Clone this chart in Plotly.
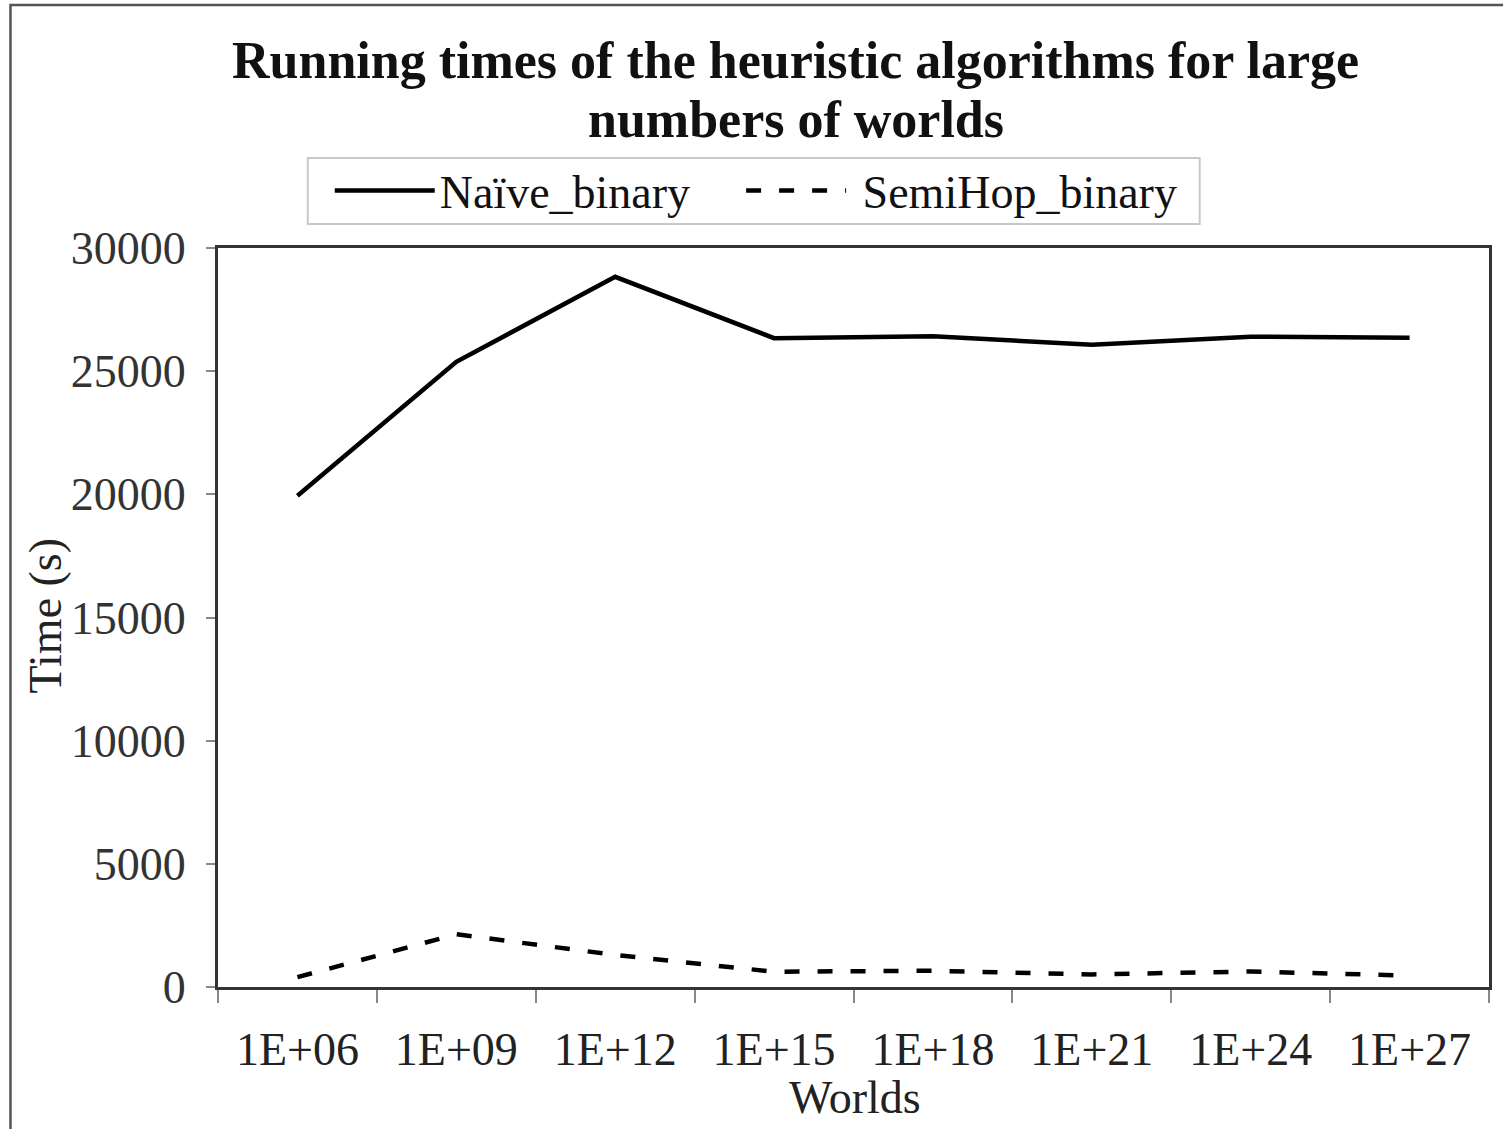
import plotly.graph_objects as go

categories = ["1E+06", "1E+09", "1E+12", "1E+15", "1E+18", "1E+21", "1E+24", "1E+27"]
naive_binary = [19940, 25380, 28830, 26340, 26420, 26070, 26400, 26360]
semihop_binary = [400, 2140, 1300, 620, 660, 510, 630, 460]
series_names = ["Naïve_binary", "SemiHop_binary"]

W, H = 1503, 1129
L, R, T, B = 218, 1492, 248, 987   # plot area in page pixels

FONT = "Liberation Serif, Times New Roman, serif"
NBSP = "\u00a0"

fig = go.Figure()
fig.add_trace(go.Scatter(x=categories, y=naive_binary, mode="lines", name=series_names[0] + NBSP * 4,
                         line=dict(color="black", width=4.5)))
fig.add_trace(go.Scatter(x=categories, y=semihop_binary, mode="lines", name=NBSP + series_names[1],
                         line=dict(color="black", width=4.5, dash="15px,18px")))

def px_x(x):
    return (x - L) / (R - L)

def px_y(y):
    return (B - y) / (B - T)

fig.update_layout(
    width=W, height=H,
    margin=dict(l=L, r=W - R, t=T, b=H - B, pad=0),
    paper_bgcolor="white", plot_bgcolor="white",
    font=dict(family=FONT, size=46, color="#1a1a1a"),
    showlegend=True,
    legend=dict(orientation="h", x=px_x(330), xanchor="left", y=px_y(154), yanchor="top",
                borderwidth=0, bgcolor="rgba(0,0,0,0)",
                font=dict(family=FONT, size=46, color="#111"),
                itemwidth=100, tracegroupgap=0),
    xaxis=dict(type="category", range=[-0.5, 7.5], showline=True, linecolor="#333", linewidth=3,
               mirror=True, ticks="outside", tickson="boundaries", ticklen=13, tickwidth=1.5,
               tickcolor="#888", showgrid=False, zeroline=False,
               tickfont=dict(family=FONT, size=46, color="#222"), ticklabelstandoff=20),
    yaxis=dict(range=[0, 30000], dtick=5000, showline=True, linecolor="#333", linewidth=3,
               mirror=True, ticks="outside", ticklen=9, tickwidth=1.5, tickcolor="#888",
               showgrid=False, zeroline=False, tickformat="d",
               tickfont=dict(family=FONT, size=46, color="#333"), ticklabelstandoff=11),
    annotations=[
        dict(text="<b>Running times of the heuristic algorithms for large</b>",
             xref="paper", yref="paper", x=px_x(797), y=px_y(61), xanchor="center", yanchor="middle",
             showarrow=False, font=dict(family=FONT, size=52, color="#111")),
        dict(text="<b>numbers of worlds</b>",
             xref="paper", yref="paper", x=px_x(797), y=px_y(120), xanchor="center", yanchor="middle",
             showarrow=False, font=dict(family=FONT, size=52, color="#111")),
        dict(text="Time (s)", xref="paper", yref="paper", x=px_x(45), y=px_y(615),
             xanchor="center", yanchor="middle", textangle=-90, showarrow=False,
             font=dict(family=FONT, size=46, color="#222")),
        dict(text="Worlds", xref="paper", yref="paper", x=px_x(857), y=px_y(1097),
             xanchor="center", yanchor="middle", showarrow=False,
             font=dict(family=FONT, size=46, color="#222")),
    ],
    shapes=[
        dict(type="rect", xref="paper", yref="paper", x0=px_x(10), x1=px_x(1520),
             y0=px_y(5), y1=px_y(1140), line=dict(color="#555", width=2.5), layer="below"),
        dict(type="rect", xref="paper", yref="paper", x0=px_x(308), x1=px_x(1202),
             y0=px_y(158), y1=px_y(224), line=dict(color="#c8c8c8", width=2), layer="below"),
    ],
)

fig.write_html("out.html", config={"displayModeBar": False},
               post_script="document.body.style.margin='0';document.body.style.overflow='hidden';")
